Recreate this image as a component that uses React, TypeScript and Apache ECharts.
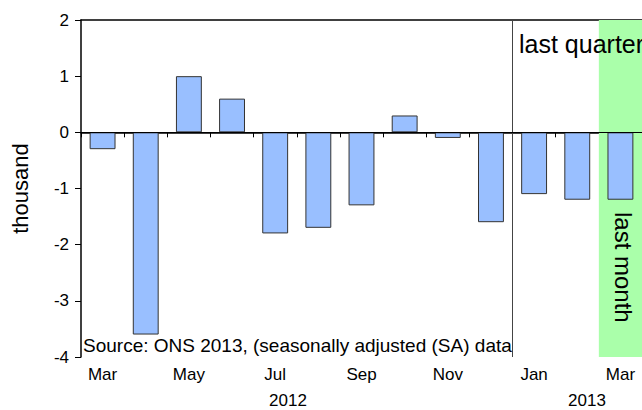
import React, { useEffect, useRef } from "react";
import * as echarts from "echarts";

const months = ["2012-03","2012-04","2012-05","2012-06","2012-07","2012-08","2012-09","2012-10","2012-11","2012-12","2013-01","2013-02","2013-03"];
const monthNames = ["Jan","Feb","Mar","Apr","May","Jun","Jul","Aug","Sep","Oct","Nov","Dec"];
const values = [-0.3, -3.6, 1.0, 0.6, -1.8, -1.7, -1.3, 0.3, -0.1, -1.6, -1.1, -1.2, -1.2];
const yTicks = { min: -4, max: 2, interval: 1 };
const quarterStart = 9.5; // boundary between Dec and Jan
const lastMonth = [11.5, 12.5];
const FONT = "Liberation Sans, Arial, Helvetica, sans-serif";

export default function App() {
  const ref = useRef<HTMLDivElement>(null);
  useEffect(() => {
    document.body.style.margin = "0";
    const chart = echarts.init(ref.current!, null, { renderer: "svg" });
    chart.setOption({
      animation: false,
      backgroundColor: "#ffffff",
      textStyle: { fontFamily: FONT },
      grid: { left: 81, top: 20, right: 0, bottom: 53 },
      xAxis: [
        {
          type: "category",
          data: months,
          position: "bottom",
          boundaryGap: true,
          axisLine: { show: true, lineStyle: { color: "#000", width: 1.5 } },
          axisTick: { show: true, interval: 0, length: 5, lineStyle: { color: "#000" } },
          axisLabel: {
            interval: 1,
            fontSize: 17,
            color: "#000",
            margin: 9,
            fontFamily: FONT,
            formatter: (v: string) => monthNames[parseInt(v.split("-")[1], 10) - 1],
          },
          splitLine: { show: false },
        },
        {
          type: "value",
          position: "top",
          min: -0.5,
          max: 12.5,
          axisLine: { show: true, onZero: false, lineStyle: { color: "#000", width: 1.5 } },
          axisTick: { show: false },
          axisLabel: { show: false },
          splitLine: { show: false },
        },
      ],
      yAxis: {
        type: "value",
        min: yTicks.min,
        max: yTicks.max,
        interval: yTicks.interval,
        name: "thousand",
        nameLocation: "middle",
        nameRotate: 90,
        nameGap: 50,
        nameTextStyle: { fontSize: 22, color: "#000", fontFamily: FONT },
        axisLine: { show: true, onZero: false, lineStyle: { color: "#000", width: 1.5 } },
        axisTick: { show: true, length: 6, lineStyle: { color: "#000" } },
        axisLabel: { fontSize: 17, color: "#000", margin: 12, fontFamily: FONT },
        splitLine: { show: false },
      },
      series: [
        {
          type: "scatter",
          xAxisIndex: 1,
          yAxisIndex: 0,
          data: [[0, 0]],
          symbolSize: 0,
          silent: true,
          z: 0,
          markArea: {
            silent: true,
            itemStyle: { color: "#aaffaa" },
            data: [[{ xAxis: lastMonth[0] }, { xAxis: lastMonth[1] }]],
          },
          markLine: {
            silent: true,
            symbol: "none",
            label: { show: false },
            lineStyle: { color: "#444", width: 1, type: "solid" },
            data: [{ xAxis: quarterStart }],
          },
        },
        {
          type: "bar",
          data: values,
          barWidth: "60%",
          z: 3,
          itemStyle: { color: "#99bfff", borderColor: "#333", borderWidth: 1 },
          markLine: {
            silent: true,
            symbol: "none",
            label: { show: false },
            lineStyle: { color: "#000", width: 1, type: "solid" },
            data: [{ yAxis: 0 }],
          },
        },
      ],
      graphic: [
        {
          type: "text",
          left: 519,
          top: 31,
          z: 10,
          style: { text: "last quarter", fontSize: 25, fill: "#000", fontFamily: FONT },
        },
        {
          type: "text",
          x: 635,
          y: 212,
          rotation: -Math.PI / 2,
          z: 10,
          style: { text: "last month", fontSize: 24, fill: "#000", fontFamily: FONT },
        },
        {
          type: "text",
          left: 83,
          top: 336,
          z: 10,
          style: { text: "Source: ONS 2013, (seasonally adjusted (SA) data", fontSize: 19, fill: "#000", fontFamily: FONT },
        },
        {
          type: "text",
          x: 288,
          y: 392,
          style: { text: "2012", fontSize: 17, fill: "#000", fontFamily: FONT, align: "center" },
        },
        {
          type: "text",
          x: 587,
          y: 392,
          style: { text: "2013", fontSize: 17, fill: "#000", fontFamily: FONT, align: "center" },
        },
      ],
    });
    return () => chart.dispose();
  }, []);
  return <div ref={ref} style={{ width: 642, height: 410 }} />;
}
